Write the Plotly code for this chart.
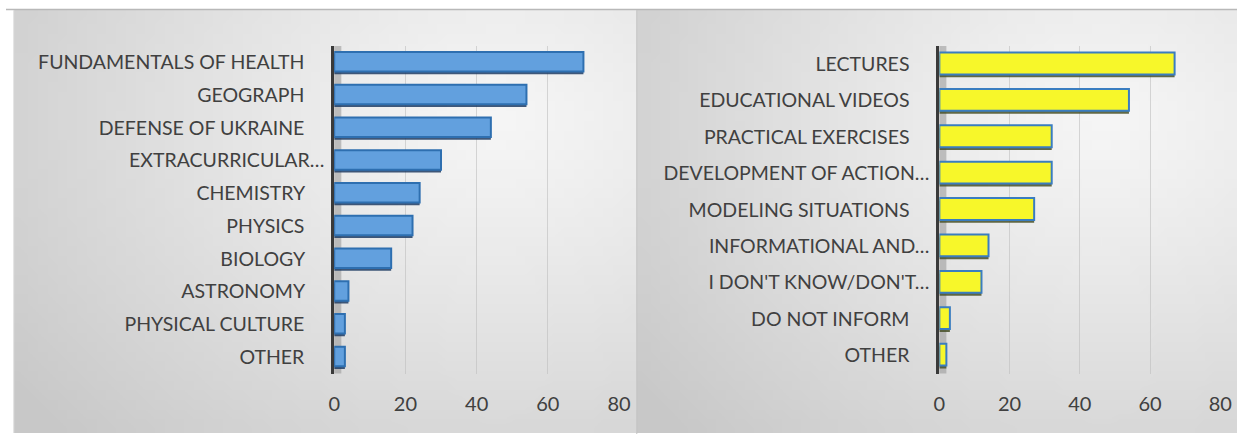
import base64, struct, zlib, math
import plotly.graph_objects as go

# ---------------- data ----------------
subjects = ["FUNDAMENTALS OF HEALTH", "GEOGRAPH", "DEFENSE OF UKRAINE", "EXTRACURRICULAR…",
            "CHEMISTRY", "PHYSICS", "BIOLOGY", "ASTRONOMY", "PHYSICAL CULTURE", "OTHER"]
subject_values = [70, 54, 44, 30, 24, 22, 16, 4, 3, 3]

methods = ["LECTURES", "EDUCATIONAL VIDEOS", "PRACTICAL EXERCISES", "DEVELOPMENT OF ACTION…",
           "MODELING SITUATIONS", "INFORMATIONAL AND…", "I DON'T KNOW/DON'T…",
           "DO NOT INFORM", "OTHER"]
method_values = [67, 54, 32, 32, 27, 14, 12, 3, 2]

x_ticks = [0, 20, 40, 60, 80]

W, H = 1249, 434
FONT = "Lato"


# ---------------- background gradient image ----------------
def png_data_uri(w, h, fn):
    raw = b""
    for j in range(h):
        raw += b"\x00"
        for i in range(w):
            g = fn(i / (w - 1), j / (h - 1))
            raw += bytes((g, g, g))
    def chunk(t, d):
        c = struct.pack(">I", len(d)) + t + d
        return c + struct.pack(">I", zlib.crc32(t + d) & 0xffffffff)
    png = b"\x89PNG\r\n\x1a\n" + chunk(b"IHDR", struct.pack(">IIBBBBB", w, h, 8, 2, 0, 0, 0))
    png += chunk(b"IDAT", zlib.compress(raw, 9)) + chunk(b"IEND", b"")
    return "data:image/png;base64," + base64.b64encode(png).decode()


def grad(u, v):
    d = math.sqrt(((u - 0.78) / 1.0) ** 2 + ((v - 0.25) / 1.1) ** 2)
    c = 246 - 46 * min(d, 1.0) ** 1.2
    return int(max(196, min(248, c)))


bg = png_data_uri(64, 44, grad)


def px(x):
    return x / W


def py(y):
    return 1 - y / H


fig = go.Figure()

panels = [
    dict(cats=subjects, vals=subject_values, xa="x", ya="y",
         fill="rgba(98,160,222,1)", line="#2e6fb0", shadow="rgba(30,60,100,0.85)"),
    dict(cats=methods, vals=method_values, xa="x2", ya="y2",
         fill="#f7f72a", line="#3a7dc0", shadow="rgba(70,80,40,0.85)"),
]

for p in panels:
    # shadow
    fig.add_trace(go.Bar(y=p["cats"], x=p["vals"], orientation="h", xaxis=p["xa"], yaxis=p["ya"],
                         marker=dict(color=p["shadow"], line=dict(width=0)),
                         width=0.6, offset=-0.24, hoverinfo="skip", showlegend=False))
    fig.add_trace(go.Bar(y=p["cats"], x=p["vals"], orientation="h", xaxis=p["xa"], yaxis=p["ya"],
                         marker=dict(color=p["fill"], line=dict(color=p["line"], width=2)),
                         width=0.6, offset=-0.32, showlegend=False))


def ticktext(cats):
    return [c if c.endswith("…") else c + "\u00a0\u00a0\u00a0\u00a0" for c in cats]


ydom = [py(373.5), py(46)]
xcommon = dict(range=[0, 80], tickvals=x_ticks, showgrid=True, gridcolor="rgba(190,190,190,0.6)",
               gridwidth=1, zeroline=False, showline=False, ticks="", ticklabelstandoff=16,
               tickfont=dict(family=FONT, size=20, color="#404040"), fixedrange=True)
ycommon = dict(type="category", autorange="reversed", showgrid=False, zeroline=False,
               showline=True, linecolor="#3a3a3a", linewidth=3, ticks="", ticklabelstandoff=3,
               tickfont=dict(family=FONT, size=19.5, color="#404040"), fixedrange=True)

fig.update_layout(
    width=W, height=H, margin=dict(l=0, r=0, t=0, b=0),
    paper_bgcolor="white", plot_bgcolor="rgba(0,0,0,0)",
    barmode="overlay", bargap=0.4,
    xaxis=dict(domain=[px(333), px(622)], anchor="y", **xcommon),
    yaxis=dict(domain=ydom, anchor="x", tickvals=subjects, ticktext=ticktext(subjects), **ycommon),
    xaxis2=dict(domain=[px(947), px(1232)], anchor="y2", **xcommon),
    yaxis2=dict(domain=ydom, anchor="x2", tickvals=methods, ticktext=ticktext(methods), **ycommon),
    images=[
        dict(source=bg, xref="paper", yref="paper", x=px(8), y=py(10), sizex=px(640) - px(8),
             sizey=py(10) - py(433), sizing="stretch", layer="below", xanchor="left", yanchor="top"),
        dict(source=bg, xref="paper", yref="paper", x=px(640), y=py(10), sizex=1 - px(640),
             sizey=py(10) - py(433), sizing="stretch", layer="below", xanchor="left", yanchor="top"),
    ],
    shapes=[
        dict(type="line", xref="paper", yref="paper", x0=0, x1=1, y0=py(9.5), y1=py(9.5),
             line=dict(color="#b8b8b8", width=1.5)),
        dict(type="line", xref="paper", yref="paper", x0=px(640), x1=px(640), y0=py(10), y1=0,
             line=dict(color="#c4c4c4", width=1)),
        dict(type="line", xref="paper", yref="paper", x0=px(8), x1=px(8), y0=py(10), y1=py(433),
             line=dict(color="#d8d8d8", width=1)),
        # side wall strip next to the axis
        dict(type="rect", xref="x domain", yref="y domain", x0=0, x1=0.025, y0=0, y1=1,
             fillcolor="rgba(150,150,150,0.55)", line=dict(width=0), layer="below"),
        dict(type="rect", xref="x2 domain", yref="y2 domain", x0=0, x1=0.025, y0=0, y1=1,
             fillcolor="rgba(150,150,150,0.55)", line=dict(width=0), layer="below"),
    ],
)

fig.write_html("out.html", config={"displayModeBar": False, "staticPlot": True},
               post_script="document.body.style.margin='0';document.body.style.overflow='hidden';")
